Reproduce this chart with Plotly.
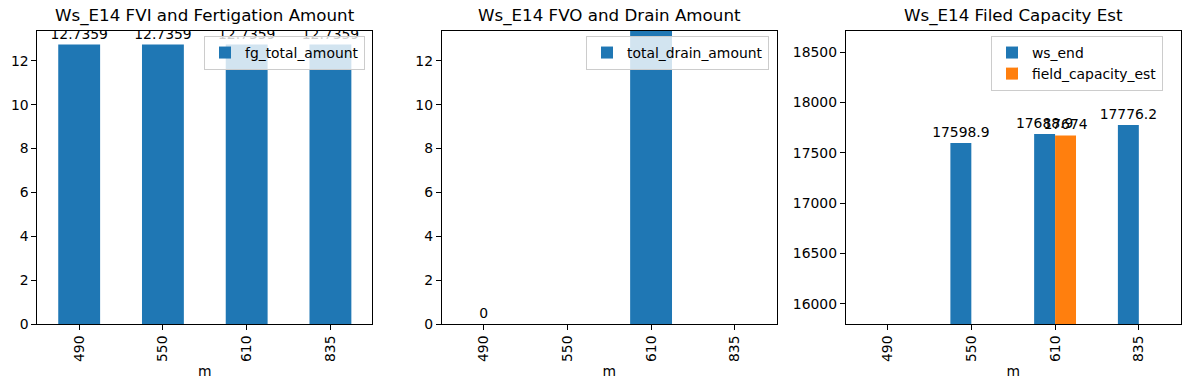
import plotly.graph_objects as go

# ---- data ----
categories = ["490", "550", "610", "835"]
fg_total_amount = [12.7359, 12.7359, 12.7359, 12.7359]
total_drain_amount = [0.0, None, 20.0, None]
ws_end = [None, 17598.9, 17688.9, 17776.2]
field_capacity_est = [None, None, 17674.0, None]

titles = ["Ws_E14 FVI and Fertigation Amount", "Ws_E14 FVO and Drain Amount", "Ws_E14 Filed Capacity Est"]
x_title = "m"

BLUE = "#1f77b4"
ORANGE = "#ff7f0e"
FONT = "DejaVu Sans"
FS = 13.9
W, H = 1189, 390

yranges = [[0, 13.37], [0, 13.37], [15800, 18714]]


def fmt(vals, yr):
    # labels like matplotlib bar_label (%g); labels of bars whose top is off the axes are not visible
    return [None if (v is None or v > yr[1]) else f"{v:g}" for v in vals]


fig = go.Figure()

# domains in paper coords (pixel-derived)
xdoms = [(37.3 / W, 372.3 / W), (441.7 / W, 776.7 / W), (845.7 / W, 1180.7 / W)]
ydom = (1 - 324 / H, 1 - 30.7 / H)

bar_common = dict(textposition="outside", cliponaxis=True, constraintext="none",
                  textfont=dict(family=FONT, size=FS, color="black"), marker_line_width=0)

fig.add_trace(go.Bar(x=categories, y=fg_total_amount, name="fg_total_amount", marker_color=BLUE,
                     text=fmt(fg_total_amount, yranges[0]), width=0.5, xaxis="x", yaxis="y", legend="legend",
                     **bar_common))
fig.add_trace(go.Bar(x=categories, y=total_drain_amount, name="total_drain_amount", marker_color=BLUE,
                     text=fmt(total_drain_amount, yranges[1]), width=0.5, xaxis="x2", yaxis="y2",
                     legend="legend2", **bar_common))
fig.add_trace(go.Bar(x=categories, y=ws_end, name="ws_end", marker_color=BLUE,
                     text=fmt(ws_end, yranges[2]), width=0.25, offset=-0.25, xaxis="x3", yaxis="y3",
                     legend="legend3", **bar_common))
fig.add_trace(go.Bar(x=categories, y=field_capacity_est, name="field_capacity_est", marker_color=ORANGE,
                     text=fmt(field_capacity_est, yranges[2]), width=0.25, offset=0, xaxis="x3", yaxis="y3",
                     legend="legend3", **bar_common))

axis_common = dict(showline=True, linecolor="black", linewidth=1, mirror=True, ticks="outside",
                   ticklen=4.9, tickwidth=1, tickcolor="black", showgrid=False, zeroline=False,
                   automargin=False, tickfont=dict(family=FONT, size=FS, color="black"))

layout = dict(width=W, height=H, margin=dict(l=0, r=0, t=0, b=0), paper_bgcolor="white",
              plot_bgcolor="white", barmode="overlay", font=dict(family=FONT, size=FS, color="black"))
for i in range(3):
    sfx = "" if i == 0 else str(i + 1)
    layout["xaxis" + sfx] = dict(domain=xdoms[i], anchor="y" + sfx, type="category",
                                 categoryorder="array", categoryarray=categories,
                                 range=[-0.5, 3.5], tickangle=-90,
                                 title=dict(text=x_title, font=dict(family=FONT, size=FS), standoff=5),
                                 **axis_common)
    layout["yaxis" + sfx] = dict(domain=ydom, anchor="x" + sfx, range=yranges[i], tickformat="d",
                                 **axis_common)

layout["yaxis"]["dtick"] = 2
layout["yaxis2"]["dtick"] = 2
layout["yaxis3"]["dtick"] = 500

leg_common = dict(bgcolor="rgba(255,255,255,0.8)", bordercolor="#cccccc", borderwidth=1,
                  font=dict(family=FONT, size=FS, color="black"), xanchor="right", yanchor="top",
                  tracegroupgap=2, itemsizing="constant")
layout["legend"] = dict(x=365 / W, y=1 - 36 / H, **leg_common)
layout["legend2"] = dict(x=769 / W, y=1 - 36 / H, **leg_common)
layout["legend3"] = dict(x=1163 / W, y=1 - 36 / H, **leg_common)

annotations = []
for i, t in enumerate(titles):
    annotations.append(dict(text=t, xref="paper", yref="paper", x=(xdoms[i][0] + xdoms[i][1]) / 2,
                            y=ydom[1], xanchor="center", yanchor="bottom", yshift=3, showarrow=False,
                            font=dict(family=FONT, size=16.7, color="black")))
layout["annotations"] = annotations
layout["showlegend"] = True

fig.update_layout(**layout)
fig.write_html("out.html", config={"displayModeBar": False},
               post_script="document.body.style.margin='0px';document.body.style.overflow='hidden';")
